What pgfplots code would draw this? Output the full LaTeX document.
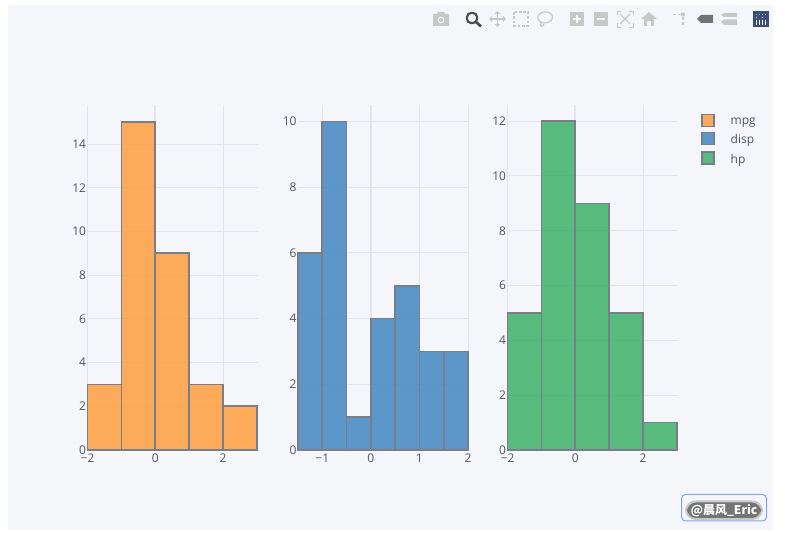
\documentclass[border=0pt]{standalone}
\usepackage{pgfplots}
\pgfplotsset{compat=1.18}
\usepackage{fontspec}
\setmainfont{Open Sans}
\newfontfamily\cjk{Noto Sans CJK SC}
\definecolor{bgc}{HTML}{F5F6F9}
\definecolor{gridc}{HTML}{E1E5ED}
\definecolor{txt}{HTML}{4D5663}
\definecolor{edgec}{HTML}{777F8A}
\definecolor{oc}{HTML}{FF9933}
\definecolor{bc}{HTML}{3780BF}
\definecolor{gc}{HTML}{32AB60}
\definecolor{ic}{HTML}{C8C8C8}
\definecolor{logoc}{HTML}{3A4C78}
\definecolor{wmc}{HTML}{82A5EB}
\pgfplotsset{
  hist/.style={
    scale only axis, height=258.75pt, ymin=0,
    axis line style={draw=none},
    major tick length=0pt,
    tick style={draw=none},
    grid=both, minor tick num=0,
    grid style={gridc,line width=0.75pt},
    tick label style={font=\fontsize{9}{11}\selectfont,text=txt},
    xticklabel style={yshift=-0.6pt,inner sep=2pt},
    yticklabel style={xshift=1.1pt,inner sep=2pt},
    extra x ticks={0}, extra x tick labels={},
    extra x tick style={grid=major,major grid style={gridc,line width=1.5pt}},
    extra y ticks={0}, extra y tick labels={},
    extra y tick style={grid=major,major grid style={gridc,line width=1.5pt}},
    clip=false,
  },
  bar/.style 2 args={ybar,bar width=#2,bar shift=0pt,fill=#1,fill opacity=0.8,draw=none},
  baredge/.style={ybar,bar width=#1,bar shift=0pt,fill=none,draw=edgec,line width=1.3pt,forget plot},
}
\begin{document}
\begin{tikzpicture}
\fill[white] (0,0) rectangle (588.75pt,400.5pt);
\fill[bgc] (6pt,3pt) rectangle (580pt,396.75pt);

\begin{axis}[hist,at={(65.625pt,63pt)},width=127.875pt,xmin=-2,xmax=3.03,ymax=15.79,
  xtick={-2,0,2},xticklabels={−2,0,2},
  ytick={2,4,6,8,10,12,14},yticklabels={2,4,6,8,10,12,14},
  extra y tick labels={0}]
\addplot[bar={oc}{1}] coordinates {(-1.5,3) (-0.5,15) (0.5,9) (1.5,3) (2.5,2)};
\addplot[baredge=1] coordinates {(-1.5,3) (-0.5,15) (0.5,9) (1.5,3) (2.5,2)};
\end{axis}

\begin{axis}[hist,at={(223.5pt,63pt)},width=127.5pt,xmin=-1.5,xmax=2,ymax=10.50,
  xtick={-1,0,1,2},xticklabels={−1,0,1,2},
  ytick={2,4,6,8,10},yticklabels={2,4,6,8,10},
  extra y tick labels={0}]
\addplot[bar={bc}{0.5}] coordinates {(-1.25,6) (-0.75,10) (-0.25,1) (0.25,4) (0.75,5) (1.25,3) (1.75,3)};
\addplot[baredge=0.5] coordinates {(-1.25,6) (-0.75,10) (-0.25,1) (0.25,4) (0.75,5) (1.25,3) (1.75,3)};
\end{axis}

\begin{axis}[hist,at={(380.625pt,63pt)},width=127.875pt,xmin=-2,xmax=3.03,ymax=12.59,
  xtick={-2,0,2},xticklabels={−2,0,2},
  ytick={2,4,6,8,10,12},yticklabels={2,4,6,8,10,12},
  extra y tick labels={0},
  legend cell align=left,
  legend style={at={(1.135,0.975)},anchor=north west,draw=none,fill=none,
    font=\fontsize{9}{11}\selectfont,text=txt,inner sep=0pt,
    row sep=2pt,
    /tikz/every even column/.append style={column sep=0pt}},
  legend image code/.code={
    \draw[#1,line width=1.2pt] (0cm,-0.115cm) rectangle (0.31cm,0.2cm);
  }]
\addlegendimage{fill=oc,fill opacity=0.8,draw=edgec}
\addlegendentry{\hspace{10pt}mpg}
\addlegendimage{fill=bc,fill opacity=0.8,draw=edgec}
\addlegendentry{\hspace{10pt}disp}
\addlegendimage{fill=gc,fill opacity=0.8,draw=edgec}
\addlegendentry{\hspace{10pt}hp}
\addplot[bar={gc}{1},forget plot] coordinates {(-1.5,5) (-0.5,12) (0.5,9) (1.5,5) (2.5,1)};
\addplot[baredge=1] coordinates {(-1.5,5) (-0.5,12) (0.5,9) (1.5,5) (2.5,1)};
\end{axis}

% toolbar and watermark, in reference pixels
\begin{scope}[x=0.75pt,y=-0.75pt,yshift=400.5pt]
 % camera
 \fill[ic,even odd rule] (433,14) -- (437,14) -- (438,12) -- (444,12) -- (445,14) -- (449,14) -- (449,26) -- (433,26) -- cycle (441,20) circle (3.5);
 \fill[ic] (441,20) circle (2);
 % zoom
 \draw[line width=1.6pt,black!70,rounded corners=3pt] (467,13) rectangle (477,23);
 \draw[line width=2pt,black!70] (476,22) -- (481,26.5);
 % pan
 \draw[ic,line width=1pt] (491,19) -- (504,19) (497.5,13) -- (497.5,25);
 \fill[ic] (489,19)--(492,16)--(492,22)--cycle (506,19)--(503,16)--(503,22)--cycle (497.5,11)--(494.5,14)--(500.5,14)--cycle (497.5,27)--(494.5,24)--(500.5,24)--cycle;
 % box select
 \draw[ic,line width=1pt,dash pattern=on 2pt off 1.3pt] (514,12) rectangle (528,26);
 % lasso
 \draw[ic,line width=0.9pt] (545,12) .. controls (555,12) and (555,22) .. (545,23) .. controls (537,24) and (534,13) .. (545,12);
 \draw[ic,line width=0.9pt] (541,23) .. controls (539,27) and (543,27) .. (544,24);
 % plus minus
 \fill[ic] (570,12) rectangle (584,26);
 \fill[white,opacity=0.9] (573,17.8) rectangle (581,20.2);
 \fill[white,opacity=0.9] (575.8,15) rectangle (578.2,23);
 \fill[ic] (594,12) rectangle (608,26);
 \fill[white,opacity=0.9] (597,17.8) rectangle (605,20.2);
 % autoscale
 \draw[ic,line width=0.6pt] (617,15)--(617,11)--(621,11) (629,11)--(633,11)--(633,15) (633,23)--(633,27)--(629,27) (621,27)--(617,27)--(617,23);
 \draw[ic,line width=0.8pt] (620,14)--(630,24) (630,14)--(620,24);
 % home
 \fill[ic] (641,19)--(649,12)--(657,19)--(654,19)--(654,26)--(651,26)--(651,21)--(647,21)--(647,26)--(644,26)--(644,19)--cycle;
 % spikelines
 \fill[ic] (683,14.5) circle (2.2);
 \draw[ic,line width=0.9pt,dash pattern=on 2pt off 2pt] (673,14.5)--(681,14.5) (683,17)--(683,25);
 % closest
 \fill[black!55] (697,19)--(701,15)--(713,15)--(713,23)--(701,23)--cycle;
 % compare
 \fill[ic] (721,15)--(724,13)--(737,13)--(737,17)--(724,17)--cycle;
 \fill[ic] (721,22)--(724,19.5)--(737,19.5)--(737,25)--(724,25)--cycle;
 % plotly logo
 \fill[logoc] (753,11) rectangle (769,27);
 \foreach \xx in {756,759,762,765} \fill[white] (\xx,20) rectangle +(1,5);
 \foreach \xx in {756,759,762,765} \fill[cyan!60] (\xx,14) rectangle +(1,1);
 \foreach \xx in {756,762} \fill[white] (\xx,17) rectangle +(1,1);
 % watermark
 \draw[wmc,line width=0.75pt,rounded corners=3pt] (681.5,494.5) rectangle (766.5,521);
 \fill[black!40,rounded corners=8pt,opacity=0.5] (685,500.5) rectangle (763,520);
 \fill[black!60,rounded corners=7pt,opacity=0.85] (687,502.5) rectangle (761,518);
 \node[text=white,font=\cjk\bfseries\fontsize{9}{11}\selectfont,inner sep=0pt] at (724,510.5) {@晨风\_Eric};
\end{scope}
\end{tikzpicture}
\end{document}
